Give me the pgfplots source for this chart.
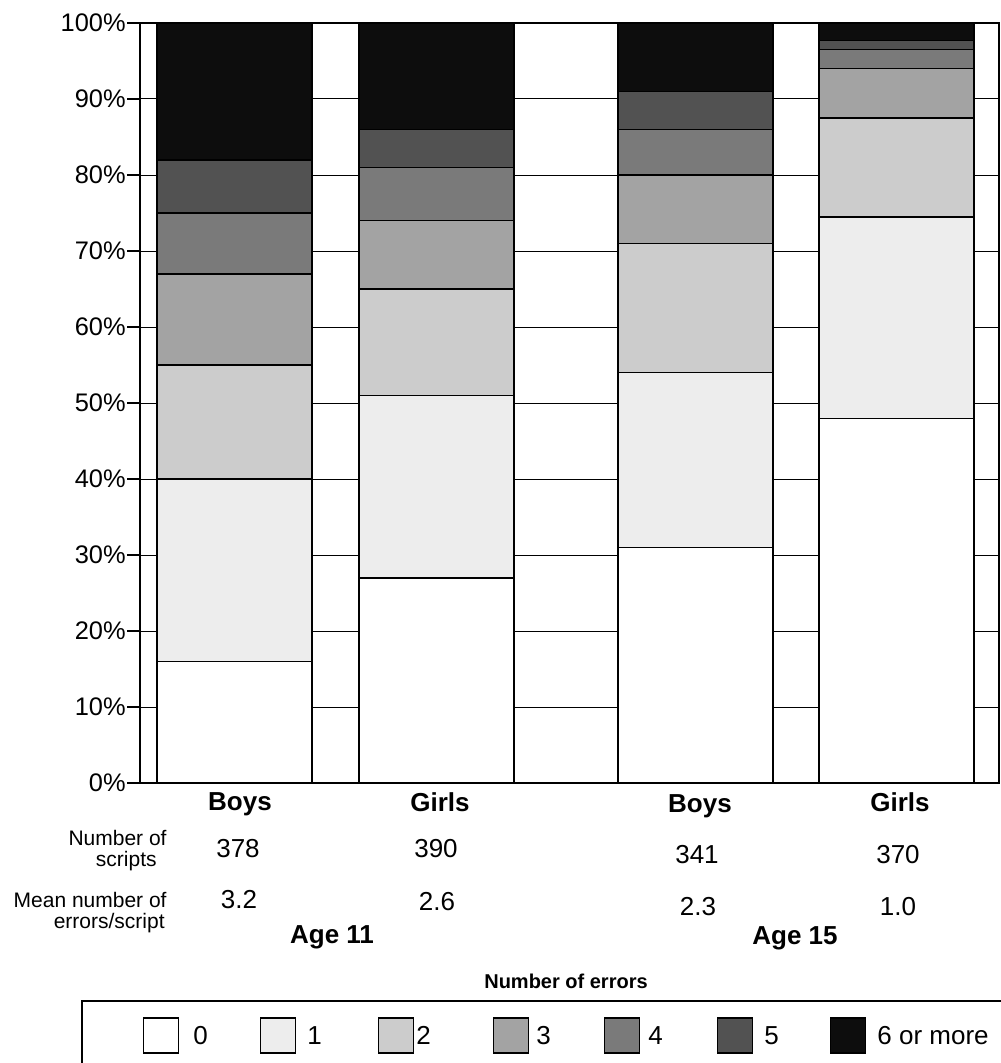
\documentclass[border=0pt]{standalone}
\usepackage{fontspec}
\setmainfont{Liberation Sans}
\usepackage{pgfplots}
\usepackage{pgfplotstable}
\pgfplotsset{compat=1.18}
\definecolor{e1}{gray}{0.93}
\definecolor{e2}{gray}{0.80}
\definecolor{e3}{gray}{0.64}
\definecolor{e4}{gray}{0.48}
\definecolor{e5}{gray}{0.32}
\definecolor{e6}{gray}{0.05}
\pgfplotsset{leg/.style={legend image code/.code={\draw[##1,draw=black,line width=0.7pt] (0pt,-8.75pt) rectangle (17.5pt,8.75pt);}}}
\newcommand{\lt}[1]{\raisebox{-1.8pt}{#1}}
\pgfplotstableread{
x c0 c1 c2 c3 c4 c5 c6
234.5 16 24 15 12 8 7 18
436.5 27 24 14 9 7 5 14
695.5 31 23 17 9 6 5 9
896.5 48 26.5 13 6.5 2.5 1.2 2.3
}\data
\begin{document}
\begin{tikzpicture}
\useasboundingbox (0pt,0pt) rectangle (500pt,-531.5pt);
\begin{axis}[
  at={(70pt,-391.5pt)}, anchor=south west,
  scale only axis, width=429.5pt, height=380pt,
  ybar stacked, bar width=155,
  xmin=140, xmax=999, ymin=0, ymax=100,
  xtick=\empty,
  ytick={0,10,...,100},
  yticklabel={\pgfmathprintnumber{\tick}\%},
  /pgf/number format/assume math mode=true,
  ticklabel style={font=\fontsize{12.7}{15}\selectfont},
  yticklabel style={inner sep=0.5pt},
  ymajorgrids, grid style={black, line width=0.5pt},
  tick align=outside, ytick pos=left, major tick length=6.5pt,
  tick style={black, line width=0.6pt},
  axis line style={line width=0.8pt},
  every axis plot/.append style={draw=black, line width=0.7pt},
  legend columns=-1,
  legend cell align=left,
  legend style={at={(0.0035,-0.3322)}, anchor=west, draw=none, fill=none,
    inner sep=0pt, outer sep=0pt, column sep=0pt,
    nodes={inner sep=0pt, outer sep=0pt, font=\fontsize{13}{15}\selectfont}},
]
\addplot[fill=white, leg] table[x=x,y=c0]{\data};
\addlegendentry{\makebox[40.3pt][l]{\hspace{7pt}\lt{0}}}
\addplot[fill=e1, leg] table[x=x,y=c1]{\data};
\addlegendentry{\makebox[40.8pt][l]{\hspace{5.5pt}\lt{1}}}
\addplot[fill=e2, leg] table[x=x,y=c2]{\data};
\addlegendentry{\makebox[39.3pt][l]{\hspace{1pt}\lt{2}}}
\addplot[fill=e3, leg] table[x=x,y=c3]{\data};
\addlegendentry{\makebox[37.3pt][l]{\hspace{3.5pt}\lt{3}}}
\addplot[fill=e4, leg] table[x=x,y=c4]{\data};
\addlegendentry{\makebox[38.3pt][l]{\hspace{4pt}\lt{4}}}
\addplot[fill=e5, leg] table[x=x,y=c5]{\data};
\addlegendentry{\makebox[38.3pt][l]{\hspace{5.5pt}\lt{5}}}
\addplot[fill=e6, leg] table[x=x,y=c6]{\data};
\addlegendentry{\hspace{5.5pt}\lt{6 or more}}
\end{axis}
\begin{scope}[x=0.5pt,y=-0.5pt]
\tikzset{bl/.style={anchor=base, font=\bfseries\fontsize{13}{15}\selectfont},
         nl/.style={anchor=base, font=\fontsize{13}{15}\selectfont},
         ll/.style={anchor=base east, inner sep=0pt, font=\fontsize{10.5}{12}\selectfont}}
\node[bl] at (240,810) {Boys};
\node[bl] at (440,811) {Girls};
\node[bl] at (700,812) {Boys};
\node[bl] at (900,811) {Girls};
\node[nl] at (238,857) {378};
\node[nl] at (436,857) {390};
\node[nl] at (697,863) {341};
\node[nl] at (898,863) {370};
\node[nl] at (239,908) {3.2};
\node[nl] at (437,910) {2.6};
\node[nl] at (698,915) {2.3};
\node[nl] at (898,915) {1.0};
\node[bl] at (332,943) {Age 11};
\node[bl] at (795,944) {Age 15};
\node[ll] at (167,845) {Number of};
\node[ll] at (157,866) {scripts};
\node[ll] at (167,907) {Mean number of};
\node[ll] at (165,928) {errors/script};
\node[anchor=base, font=\bfseries\fontsize{10}{12}\selectfont] at (566,988) {Number of errors};
\draw[line width=0.6pt] (82,1001) rectangle (1030,1100);
\end{scope}
\end{tikzpicture}
\end{document}
